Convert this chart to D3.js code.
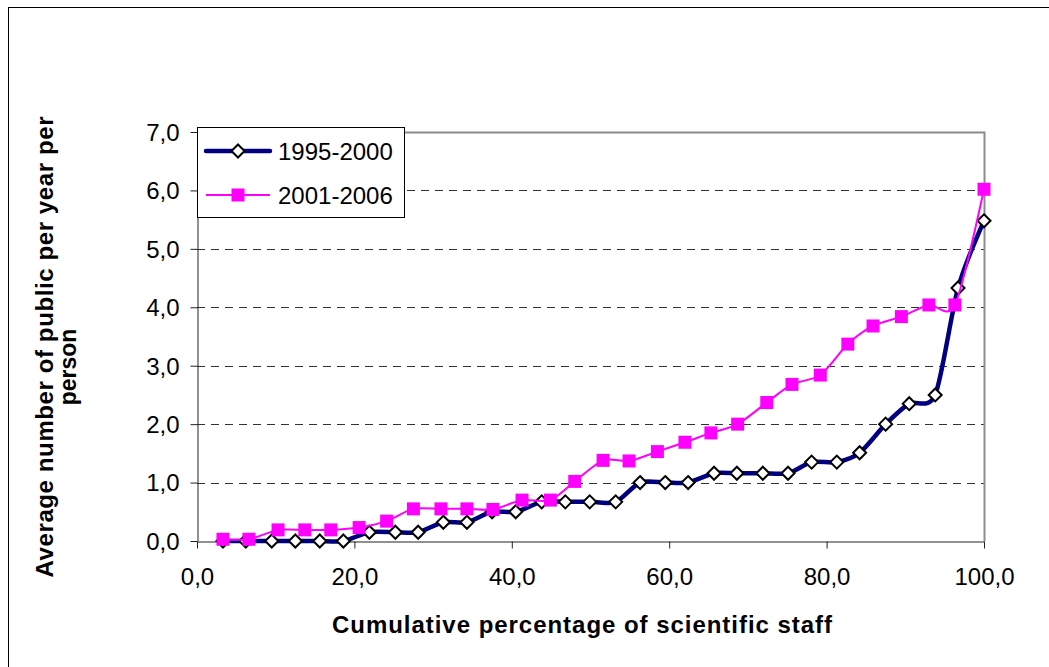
<!DOCTYPE html>
<html>
<head>
<meta charset="utf-8">
<script src="https://cdn.jsdelivr.net/npm/d3@7"></script>
<style>
  html, body { margin: 0; padding: 0; background: #fff; }
  svg { display: block; font-family: "Liberation Sans", Arial, sans-serif; }
</style>
</head>
<body>
<svg id="chart" width="1049" height="667"></svg>
<script>
// ---- data ----
const seriesNames = ["1995-2000", "2001-2006"];

const x1995 = [3.3, 6.2, 9.5, 12.5, 15.6, 18.6, 21.9, 25.2, 28.1, 31.3, 34.3, 37.5, 40.5, 43.8, 46.8, 49.9,
               53.2, 56.3, 59.5, 62.4, 65.7, 68.6, 71.9, 75.1, 78.1, 81.3, 84.2, 87.5, 90.5, 93.8, 96.7, 100.0];
const y1995 = [0, 0, 0, 0, 0, 0, 0.15, 0.15, 0.15, 0.32, 0.32, 0.5, 0.5, 0.67, 0.67, 0.67,
               0.67, 1.0, 1.0, 1.0, 1.16, 1.16, 1.16, 1.16, 1.35, 1.35, 1.51, 2.0, 2.35, 2.5, 4.33, 5.48];

const x2001 = [3.3, 6.6, 10.3, 13.7, 17.0, 20.6, 24.1, 27.5, 31.0, 34.3, 37.6, 41.3, 44.9, 48.0, 51.6,
               54.9, 58.5, 62.0, 65.3, 68.7, 72.4, 75.6, 79.2, 82.7, 85.9, 89.5, 93.0, 96.3, 100.0];
const y2001 = [0.03, 0.03, 0.19, 0.19, 0.19, 0.23, 0.34, 0.55, 0.55, 0.55, 0.54, 0.70, 0.70, 1.02, 1.38,
               1.37, 1.53, 1.69, 1.85, 2.0, 2.37, 2.68, 2.84, 3.37, 3.68, 3.84, 4.04, 4.04, 6.02];

const xTicks = [0, 20, 40, 60, 80, 100];
const xTickLabels = ["0,0", "20,0", "40,0", "60,0", "80,0", "100,0"];
const yTicks = [0, 1, 2, 3, 4, 5, 6, 7];
const yTickLabels = ["0,0", "1,0", "2,0", "3,0", "4,0", "5,0", "6,0", "7,0"];

const xTitle = "Cumulative percentage of scientific staff";
const yTitleLines = ["Average number of public per year per", "person"];

// ---- layout ----
const svg = d3.select("#chart");
const L = 197, R = 984, T = 132, B = 541;
const x = d3.scaleLinear().domain([0, 100]).range([L, R]);
const y = d3.scaleLinear().domain([0, 7]).range([B, T]);

// outer frame
svg.append("rect").attr("x", 8.5).attr("y", 7.5).attr("width", 1100).attr("height", 700)
  .attr("fill", "none").attr("stroke", "#000").attr("stroke-width", 1);

// gridlines (dashed)
svg.append("g").selectAll("line").data(yTicks.filter(d => d > 0 && d < 7)).join("line")
  .attr("x1", L).attr("x2", R)
  .attr("y1", d => Math.round(y(d)) + 0.5).attr("y2", d => Math.round(y(d)) + 0.5)
  .attr("stroke", "#333").attr("stroke-width", 1).attr("stroke-dasharray", "8,6");

// plot border top & right (gray)
svg.append("path")
  .attr("d", `M${L},${T + 0.5}H${R + 0.5}V${B}`)
  .attr("fill", "none").attr("stroke", "#8c8c8c").attr("stroke-width", 2);

// axes
const yAxis = d3.axisLeft(y).tickValues(yTicks).tickSize(7).tickSizeOuter(0)
  .tickFormat((d, i) => yTickLabels[i]);
const gy = svg.append("g").attr("transform", `translate(${L + 0.5},0)`).call(yAxis);
gy.selectAll("path,line").attr("stroke", "#222");
gy.selectAll("text").attr("font-size", 24).attr("fill", "#000")
  .attr("x", -18).attr("dy", "0.35em");

const xAxis = d3.axisBottom(x).tickValues(xTicks).tickSize(7).tickSizeOuter(0)
  .tickFormat((d, i) => xTickLabels[i]);
const gx = svg.append("g").attr("transform", `translate(0,${B + 0.5})`).call(xAxis);
gx.selectAll("path,line").attr("stroke", "#222");
gx.selectAll("text").attr("font-size", 24).attr("fill", "#000")
  .attr("y", 43).attr("dy", 0);

// series
const curve = d3.curveCardinal.tension(0.2);
const d1 = x1995.map((v, i) => [v, y1995[i]]);
const d2 = x2001.map((v, i) => [v, y2001[i]]);
const line = d3.line().x(d => x(d[0])).y(d => y(d[1])).curve(curve);

const diamond = s => `M0,${-s}L${s},0L0,${s}L${-s},0Z`;

svg.append("path").datum(d1).attr("d", line)
  .attr("fill", "none").attr("stroke", "#000080").attr("stroke-width", 4.5)
  .attr("stroke-linejoin", "round");
svg.append("g").selectAll("path").data(d1).join("path")
  .attr("transform", d => `translate(${x(d[0])},${y(d[1])})`)
  .attr("d", diamond(6.5))
  .attr("fill", "#fff").attr("stroke", "#000").attr("stroke-width", 2);

svg.append("path").datum(d2).attr("d", line)
  .attr("fill", "none").attr("stroke", "#ff00ff").attr("stroke-width", 2);
svg.append("g").selectAll("rect").data(d2).join("rect")
  .attr("x", d => x(d[0]) - 6.5).attr("y", d => y(d[1]) - 6.5)
  .attr("width", 13).attr("height", 13).attr("fill", "#ff00ff");

// legend
const lg = svg.append("g");
lg.append("rect").attr("x", 197.5).attr("y", 127.5).attr("width", 207).attr("height", 90)
  .attr("fill", "#fff").attr("stroke", "#000").attr("stroke-width", 1);
const ly = [151, 195];
lg.append("line").attr("x1", 206).attr("x2", 270).attr("y1", ly[0]).attr("y2", ly[0])
  .attr("stroke", "#000080").attr("stroke-width", 4.5).attr("stroke-linecap", "round");
lg.append("path").attr("transform", `translate(238,${ly[0]})`).attr("d", diamond(6.5))
  .attr("fill", "#fff").attr("stroke", "#000").attr("stroke-width", 2);
lg.append("line").attr("x1", 206).attr("x2", 270).attr("y1", ly[1]).attr("y2", ly[1])
  .attr("stroke", "#ff00ff").attr("stroke-width", 2);
lg.append("rect").attr("x", 238 - 6.5).attr("y", ly[1] - 6.5).attr("width", 13).attr("height", 13)
  .attr("fill", "#ff00ff");
lg.selectAll("text").data(seriesNames).join("text")
  .attr("x", 278).attr("y", (d, i) => ly[i] + 8.5)
  .attr("font-size", 24).attr("fill", "#000").text(d => d);

// axis titles
svg.append("text").attr("x", 582).attr("y", 633).attr("text-anchor", "middle")
  .attr("font-size", 24).attr("font-weight", "bold").attr("fill", "#000")
  .attr("textLength", 500).attr("lengthAdjust", "spacing").text(xTitle);

svg.append("text").attr("transform", "translate(53,347) rotate(-90)").attr("text-anchor", "middle")
  .attr("font-size", 24).attr("font-weight", "bold").attr("fill", "#000")
  .attr("textLength", 461).attr("lengthAdjust", "spacing").text(yTitleLines[0]);
svg.append("text").attr("transform", "translate(76,367) rotate(-90)").attr("text-anchor", "middle")
  .attr("font-size", 23).attr("font-weight", "bold").attr("fill", "#000")
  .text(yTitleLines[1]);
</script>
</body>
</html>
